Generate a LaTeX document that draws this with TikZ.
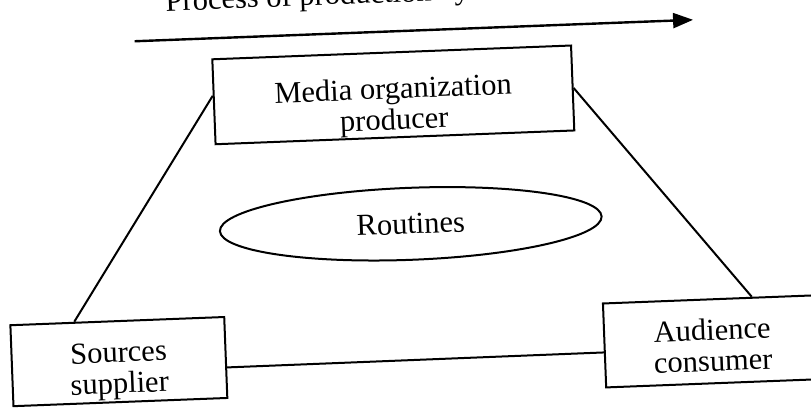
\documentclass[tikz,border=0pt]{standalone}
\usepackage{fontspec}
\setmainfont{Liberation Serif}
\usepackage{tikz}
\usetikzlibrary{shapes,arrows.meta,positioning,calc}

\begin{document}
\begin{tikzpicture}[x=1pt, y=-1pt,
    box/.style={draw, line width=2pt, align=center, inner sep=0pt,
        font=\fontsize{30.5pt}{31pt}\selectfont},
    link/.style={line width=2pt}]
\useasboundingbox (0,0) rectangle (811,408);
\begin{scope}[rotate around={2.2:(405,204)}, transform shape]
% Time arrow
\node[anchor=base west, font=\fontsize{30.5pt}{31pt}\selectfont] (title) at (170,2) {Process of production by};
\coordinate (start) at (141,31);
\coordinate (end) at (700,31);
\draw[line width=2.4pt, -{Triangle[length=20pt,width=15pt]}] (start) -- (end);

% Boxes
\node[box, text height=76pt, minimum width=359pt, minimum height=85pt] (media) at (397.5,94.5) {Media organization\\producer};
\node[box, ellipse, minimum width=382pt, minimum height=72pt] (routines) at (410,224) {Routines};
\node[box, text height=70pt, minimum width=214pt, minimum height=81pt] (sources) at (113,350.5) {Sources\\supplier};
\node[box, text height=60pt, minimum width=216pt, minimum height=84pt] (audience) at (707,353) {Audience\\consumer};

% Links
\draw[link] ([yshift=6pt]media.west) -- ([xshift=-43pt]sources.north);
\draw[link] (media.east) -- ([xshift=41pt]audience.north);
\draw[link] ([yshift=-10pt]sources.east) -- ([yshift=-7pt]audience.west);
\end{scope}
\end{tikzpicture}
\end{document}
